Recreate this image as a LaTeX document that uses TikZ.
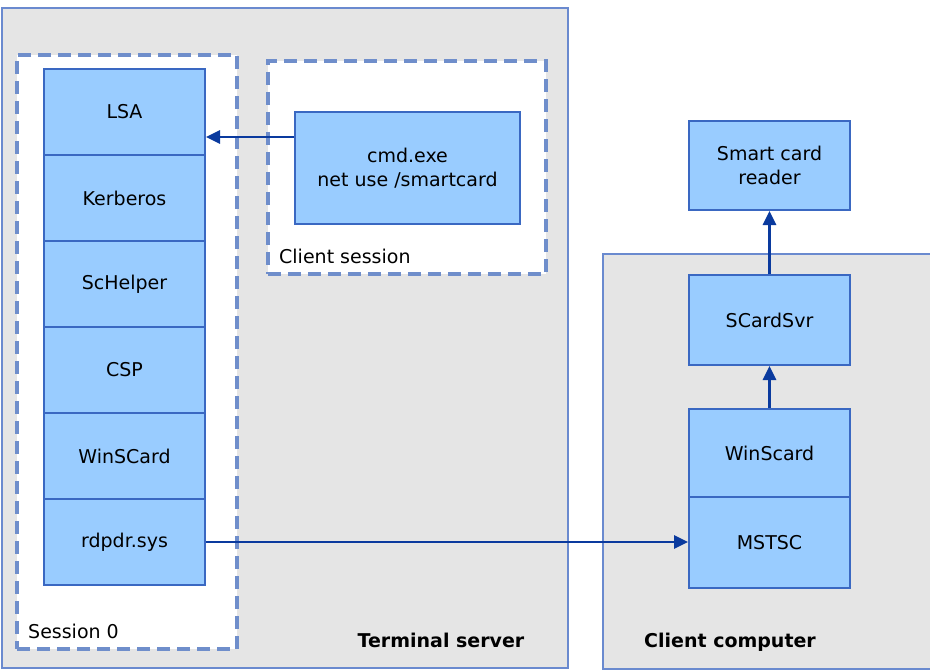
\documentclass[tikz,border=0pt]{standalone}
\usepackage{fontspec}
\setmainfont{DejaVu Sans}
\usetikzlibrary{arrows.meta}
\definecolor{boxfill}{HTML}{99CCFF}
\definecolor{boxedge}{HTML}{3A68C2}
\definecolor{arrowblue}{HTML}{0A3A9E}
\definecolor{areafill}{HTML}{E5E5E5}
\definecolor{areaedge}{HTML}{6A8ACF}
\definecolor{dashedge}{HTML}{6F8ECB}
\tikzset{
  area/.style={draw=areaedge, fill=areafill, line width=2pt, rectangle, inner sep=0pt},
  sessionbox/.style={draw=dashedge, fill=white, line width=3.2pt, dash pattern=on 13pt off 7pt, rectangle, inner sep=0pt},
  comp/.style={draw=boxedge, fill=boxfill, line width=2pt, rectangle, inner sep=0pt, align=center,
    font=\fontsize{19}{24}\selectfont},
  stackbox/.style={comp, minimum width=161pt, minimum height=86pt},
  flow/.style={draw=arrowblue, line width=2.8pt, -{Triangle[length=14pt,width=13pt]}},
  lbl/.style={font=\fontsize{19}{24}\selectfont, inner sep=0pt},
  blbl/.style={font=\bfseries\fontsize{19}{24}\selectfont, inner sep=0pt}
}
\begin{document}
\begin{tikzpicture}[x=1pt,y=-1pt]
\useasboundingbox (0,0) rectangle (930,670);

% machines
\node[area, minimum width=566pt, minimum height=660pt] (ts) at (285,338) {};
\node[area, minimum width=340pt, minimum height=415pt, anchor=north west] (cc) at (602,253) {};

% sessions on the terminal server
\node[sessionbox, minimum width=220pt, minimum height=594pt] (s0) at (127,352) {};
\node[sessionbox, minimum width=278pt, minimum height=213pt] (cs) at (407,167.5) {};

% session 0 component stack
\node[stackbox] (lsa) at (124.5,112) {LSA};
\node[stackbox] (kerb) at (124.5,198) {Kerberos};
\node[stackbox] (schelper) at (124.5,284) {ScHelper};
\node[stackbox] (csp) at (124.5,370) {CSP};
\node[stackbox] (winscardts) at (124.5,456) {WinSCard};
\node[stackbox] (rdpdr) at (124.5,542) {rdpdr.sys};

% client session
\node[comp, minimum width=225pt, minimum height=112pt] (cmd) at (407.5,168) {cmd.exe\\net use /smartcard};

% client computer components
\node[comp, minimum width=161pt, minimum height=89pt] (reader) at (769.5,165.5) {Smart card\\reader};
\node[comp, minimum width=161pt, minimum height=90pt] (scardsvr) at (769.5,320) {SCardSvr};
\node[comp, minimum width=161pt, minimum height=88pt] (winscardcc) at (769.5,453) {WinScard};
\node[comp, minimum width=161pt, minimum height=91pt] (mstsc) at (769.5,542.5) {MSTSC};

% labels
\node[lbl, anchor=base west] (s0lbl) at (28,638) {Session 0};
\node[lbl, anchor=base west] (cslbl) at (279,263) {Client session};
\node[blbl, anchor=base] (tslbl) at (441,647) {Terminal server};
\node[blbl, anchor=base] (cclbl) at (730,647) {Client computer};

% connectors
\coordinate (cmdlevel) at (0,137);
\draw[flow] (cmd.west |- cmdlevel) -- (lsa.east |- cmdlevel);
\draw[flow] (rdpdr.east) -- (mstsc.west |- rdpdr.east);
\draw[flow] (winscardcc.north) -- (scardsvr.south);
\draw[flow] (scardsvr.north) -- (reader.south);
\end{tikzpicture}
\end{document}
